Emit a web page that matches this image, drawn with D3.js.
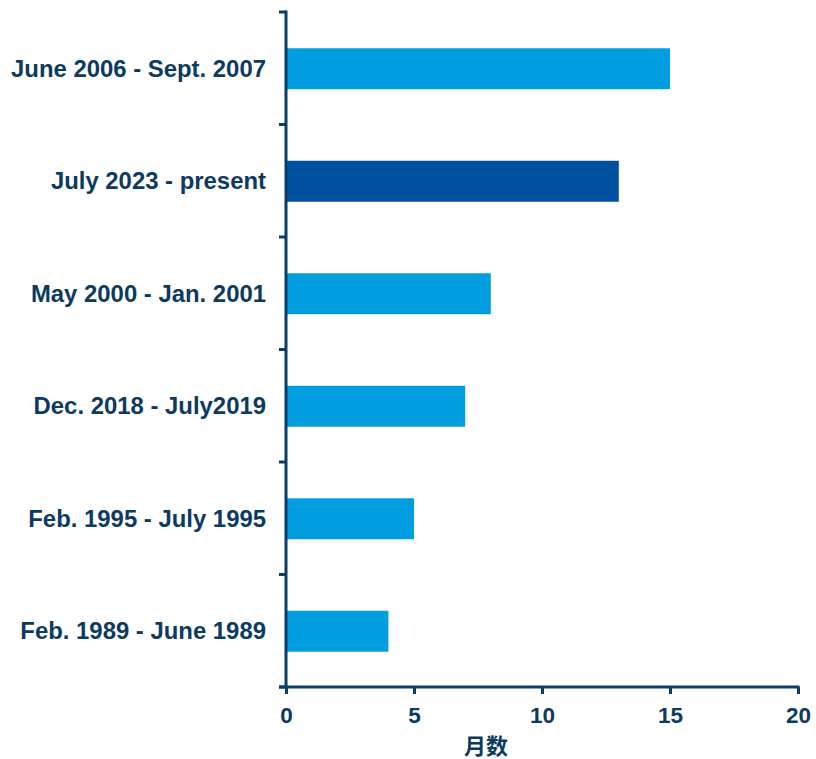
<!DOCTYPE html>
<html>
<head>
<meta charset="utf-8">
<script src="https://cdn.jsdelivr.net/npm/d3@7"></script>
<style>
  html, body { margin: 0; padding: 0; background: #ffffff; }
  svg { display: block; }
  text { font-family: "Liberation Sans", Arial, sans-serif; font-weight: bold; fill: #0d3a61; }
</style>
</head>
<body>
<svg id="chart" width="816" height="759"></svg>
<script>
// Periods, listed top to bottom
const periods = [
  "June 2006 - Sept. 2007",
  "July 2023 - present",
  "May 2000 - Jan. 2001",
  "Dec. 2018 - July2019",
  "Feb. 1995 - July 1995",
  "Feb. 1989 - June 1989"
];
// Duration of each period in months
const months = [15, 13, 8, 7, 5, 4];
// Current period highlighted
const current = [false, true, false, false, false, false];
const xTicks = [0, 5, 10, 15, 20];
const xTitle = "月数";

const axisColor = "#0b3d66";
const barColor = "#009ee0";
const currentColor = "#0050a0";

const svg = d3.select("#chart");
const plotLeft = 286, plotRight = 798, plotTop = 12, plotBottom = 687;

const x = d3.scaleLinear().domain([0, 20]).range([plotLeft, plotRight]);
const y = d3.scaleBand().domain(periods).range([plotTop, plotBottom])
  .paddingInner(0.636).paddingOuter(0.318);

const rows = periods.map((p, i) => ({ period: p, value: months[i], current: current[i] }));

// Bars
svg.append("g").selectAll("rect").data(rows).join("rect")
  .attr("x", x(0) + 1)
  .attr("y", d => y(d.period) + 0.5)
  .attr("width", d => x(d.value) - x(0) - 1)
  .attr("height", y.bandwidth())
  .attr("fill", d => d.current ? currentColor : barColor);

// Y axis line with ticks at band boundaries
const yAxis = svg.append("g");
yAxis.append("line")
  .attr("x1", plotLeft).attr("x2", plotLeft)
  .attr("y1", plotTop - 1.5).attr("y2", plotBottom)
  .attr("stroke", axisColor).attr("stroke-width", 3);
const bounds = d3.range(periods.length + 1).map(i => plotTop + i * y.step());
yAxis.selectAll("line.tick").data(bounds).join("line")
  .attr("class", "tick")
  .attr("x1", plotLeft - 7).attr("x2", plotLeft)
  .attr("y1", d => d).attr("y2", d => d)
  .attr("stroke", axisColor).attr("stroke-width", 3);

// Category labels
svg.append("g").selectAll("text").data(rows).join("text")
  .attr("x", 266)
  .attr("y", d => y(d.period) + y.bandwidth() / 2)
  .attr("dy", "0.35em")
  .attr("text-anchor", "end")
  .attr("font-size", 23.9)
  .text(d => d.period);

// X axis
const xAxis = svg.append("g").attr("transform", `translate(0,${plotBottom})`)
  .call(d3.axisBottom(x).tickValues(xTicks).tickSize(7).tickPadding(13));
xAxis.select(".domain").remove();
xAxis.append("line")
  .attr("x1", plotLeft - 7).attr("x2", plotRight + 1.5)
  .attr("y1", 0).attr("y2", 0)
  .attr("stroke", axisColor).attr("stroke-width", 3);
xAxis.selectAll(".tick line").attr("stroke", axisColor).attr("stroke-width", 3);
xAxis.selectAll(".tick text")
  .attr("font-size", 22.5)
  .style("font-family", "'Liberation Sans', Arial, sans-serif")
  .style("font-weight", "bold")
  .attr("fill", "#0d3a61");

// X axis title
svg.append("text")
  .attr("x", 486)
  .attr("y", 754)
  .attr("text-anchor", "middle")
  .attr("font-size", 22)
  .style("font-family", "'Noto Sans CJK SC', sans-serif")
  .text(xTitle);
</script>
</body>
</html>
